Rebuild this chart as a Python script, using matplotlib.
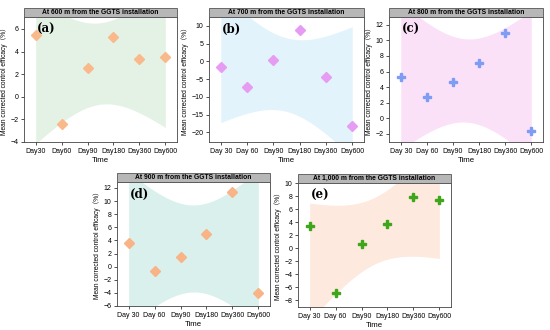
import numpy as np
import matplotlib
matplotlib.use("Agg")
import matplotlib.pyplot as plt
from matplotlib.patches import Rectangle

# category labels
days_a = ["Day30", "Day60", "Day90", "Day180", "Day360", "Day600"]
days_other = ["Day 30", "Day 60", "Day90", "Day180", "Day360", "Day600"]

# mean corrected control efficacy (%) per distance
eff_600 = [5.5, -2.45, 2.5, 5.3, 3.3, 3.5]
eff_700 = [-1.5, -7.1, 0.3, 8.7, -4.5, -18.3]
eff_800 = [5.35, 2.7, 4.65, 7.05, 11.0, -1.65]
eff_900 = [3.6, -0.6, 1.4, 4.9, 11.3, -4.0]
eff_1000 = [3.35, -6.9, 0.7, 3.75, 7.85, 7.35]

titles = ["At 600 m from the GGTS installation",
          "At 700 m from the GGTS installation",
          "At 800 m from the GGTS installation",
          "At 900 m from the GGTS installation",
          "At 1,000 m from the GGTS installation"]

T_975_DF4 = 2.776  # t quantile for 95% CI, n=6 -> df=4
SANS = ["Liberation Sans", "Noto Sans CJK SC", "DejaVu Sans"]


def ci_band(y, xs):
    """95% confidence band of a linear fit over category index."""
    y = np.asarray(y, dtype=float)
    x = np.arange(len(y), dtype=float)
    slope, icpt = np.polyfit(x, y, 1)
    resid = y - (slope * x + icpt)
    s = np.sqrt((resid ** 2).sum() / (len(y) - 2))
    sxx = ((x - x.mean()) ** 2).sum()
    half = T_975_DF4 * s * np.sqrt(1 / len(y) + (xs - x.mean()) ** 2 / sxx)
    fit = slope * xs + icpt
    return fit - half, fit + half


plt.rcParams["font.family"] = SANS

W, H = 550, 330
# (left, top, right, bottom) of each plot area in pixels
panels = [
    dict(box=(24, 17, 177, 142), y=eff_600, labels=days_a, ylim=(-4, 7.05), ticks=np.arange(-4, 7, 2),
         band="#e4f2e5", color="#f9b98a", marker="D", ms=4.6, tag="(a)"),
    dict(box=(209, 17, 364, 142), y=eff_700, labels=days_other, ylim=(-22.7, 12.5), ticks=np.arange(-20, 11, 5),
         band="#e3f3fb", color="#e59cf2", marker="D", ms=4.6, tag="(b)"),
    dict(box=(389, 17, 543, 142), y=eff_800, labels=days_other, ylim=(-3.05, 13.0), ticks=np.arange(-2, 13, 2),
         band="#fbe1f8", color="#7f9cf4", marker="P", ms=6, tag="(c)"),
    dict(box=(117, 182, 270, 306), y=eff_900, labels=days_other, ylim=(-6, 12.9), ticks=np.arange(-6, 13, 2),
         band="#daf0ec", color="#f8b487", marker="D", ms=4.6, tag="(d)"),
    dict(box=(298, 183, 451, 307), y=eff_1000, labels=days_other, ylim=(-9, 10), ticks=np.arange(-8, 11, 2),
         band="#fde9dd", color="#3ea61b", marker="P", ms=6, tag="(e)"),
]

fig = plt.figure(figsize=(W / 100, H / 100), dpi=100)
xs = np.linspace(0, 5, 200)
bar_h = 9  # title bar height in px

for p, title in zip(panels, titles):
    l, t, r, b = p["box"]
    ax = fig.add_axes([l / W, 1 - b / H, (r - l) / W, (b - t) / H])
    x = np.arange(len(p["y"]))
    lo, hi = ci_band(p["y"], xs)
    ax.fill_between(xs, lo, hi, color=p["band"], lw=0, zorder=1)
    ax.plot(x, p["y"], ls="none", marker=p["marker"], ms=p["ms"], color=p["color"],
            mec=p["color"], zorder=3)
    ax.set_xlim(-0.45, 5.45)
    ax.set_ylim(*p["ylim"])
    ax.set_yticks(p["ticks"])
    ax.set_xticks(x)
    ax.set_xticklabels(p["labels"])
    ax.tick_params(labelsize=5, length=2, width=0.6, pad=2, color="#333333")
    for sp in ax.spines.values():
        sp.set_linewidth(0.6)
        sp.set_color("#444444")
    ax.set_xlabel("Time", fontsize=5.6, labelpad=2)
    ax.set_ylabel("Mean corrected control efficacy（%）", fontsize=4.8, labelpad=2)
    ax.text(0.085, 0.9, p["tag"], transform=ax.transAxes, fontsize=8.5, fontweight="bold",
            family="DejaVu Serif", va="center", ha="left", zorder=4)
    # gray title bar above the plot area
    hb = bar_h / (b - t)
    ax.add_patch(Rectangle((0, 1), 1, hb, transform=ax.transAxes, clip_on=False,
                           facecolor="#b7b7b7", edgecolor="#555555", lw=0.6, zorder=5))
    ax.text(0.5, 1 + hb / 2, title, transform=ax.transAxes, fontsize=4.9, fontweight="bold",
            ha="center", va="center", zorder=6)

fig.savefig("out.png", dpi=100)
